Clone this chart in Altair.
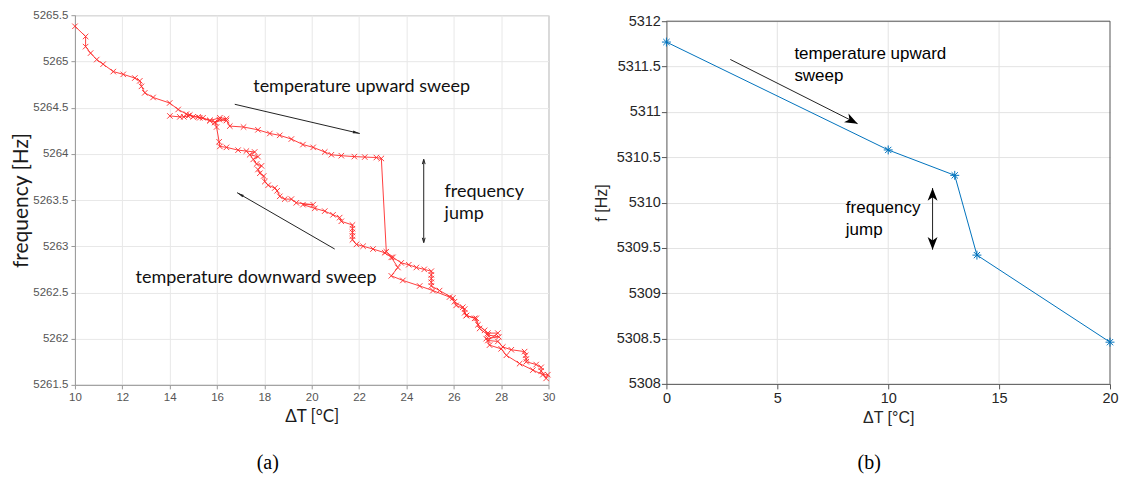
import math
import altair as alt
import pandas as pd

# ---------------- data: panel (a) measured hysteresis loop ----------------
a_dt = [10.00, 10.45, 10.45, 10.66, 10.92, 11.19, 11.62, 12.04, 12.53, 12.74,
        12.81, 12.95, 13.30, 14.00, 14.36, 14.71, 15.27, 15.70, 15.91, 16.10,
        16.40, 16.54, 17.12, 17.73, 18.23, 18.65, 19.14, 19.63, 20.06, 20.55,
        20.83, 21.25, 21.80, 22.24, 22.73, 22.94, 23.15, 23.43, 23.78, 24.10,
        24.42, 24.75, 25.05, 25.05, 25.05, 25.05, 25.05, 25.40, 25.96, 26.10,
        26.46, 26.46, 26.53, 26.88, 27.02, 27.30, 27.44, 27.86, 27.44, 27.86,
        28.07, 28.43, 28.99, 29.03, 29.06, 29.06, 29.48, 29.69, 29.69, 29.90,
        29.97,
        29.76, 29.34, 28.78, 28.22, 28.00, 27.51, 27.37, 27.90, 27.44, 27.09,
        26.95, 26.53, 26.38, 26.03, 25.82, 25.12, 24.56, 23.85, 23.36, 23.64,
        23.36, 23.08, 22.59, 22.17, 21.89, 21.72, 21.72, 21.72, 21.72, 21.72,
        21.25, 21.18, 20.90, 20.55, 20.13, 19.63, 20.06, 19.35, 19.14, 18.86,
        18.65, 18.54, 18.44, 18.16, 18.02, 17.97, 17.81, 17.73, 17.88, 17.67,
        17.53, 17.73, 17.38, 17.59, 17.24, 16.89, 16.40, 16.12, 16.09, 15.98,
        15.91, 16.40, 16.12, 15.70, 15.41, 15.20, 14.99, 14.85, 14.78, 14.60,
        14.43, 14.01]
a_f = [5265.38, 5265.27, 5265.16, 5265.09, 5265.02, 5264.97, 5264.89, 5264.86, 5264.82, 5264.79,
       5264.73, 5264.66, 5264.61, 5264.55, 5264.48, 5264.43, 5264.39, 5264.36, 5264.34, 5264.37,
       5264.36, 5264.30, 5264.29, 5264.26, 5264.22, 5264.20, 5264.16, 5264.10, 5264.07, 5264.02,
       5263.99, 5263.98, 5263.97, 5263.965, 5263.96, 5263.95, 5262.94, 5262.88, 5262.82, 5262.80,
       5262.77, 5262.75, 5262.73, 5262.69, 5262.65, 5262.61, 5262.57, 5262.52, 5262.44, 5262.36,
       5262.32, 5262.28, 5262.25, 5262.22, 5262.15, 5262.09, 5262.06, 5262.06, 5261.98, 5261.97,
       5261.91, 5261.88, 5261.86, 5261.82, 5261.78, 5261.75, 5261.72, 5261.69, 5261.65, 5261.57,
       5261.61,
       5261.61, 5261.66, 5261.73, 5261.82, 5261.89, 5261.93, 5262.00, 5262.02, 5262.04, 5262.11,
       5262.22, 5262.25, 5262.34, 5262.40, 5262.45, 5262.52, 5262.57, 5262.63, 5262.68, 5262.77,
       5262.88, 5262.93, 5262.97, 5263.00, 5263.02, 5263.07, 5263.11, 5263.15, 5263.19, 5263.23,
       5263.27, 5263.31, 5263.34, 5263.38, 5263.41, 5263.45, 5263.45, 5263.47, 5263.51, 5263.51,
       5263.54, 5263.60, 5263.63, 5263.66, 5263.70, 5263.76, 5263.79, 5263.83, 5263.87, 5263.89,
       5263.94, 5263.97, 5263.99, 5264.02, 5264.03, 5264.04, 5264.07, 5264.08, 5264.13, 5264.29,
       5264.34, 5264.38, 5264.39, 5264.36, 5264.39, 5264.40, 5264.40, 5264.42, 5264.41, 5264.40,
       5264.40, 5264.41]

# ---------------- data: panel (b) ----------------
b_dt = [0, 10, 13, 14, 20]
b_f = [5311.77, 5310.58, 5310.30, 5309.42, 5308.46]

# ticks
a_xticks = [10, 12, 14, 16, 18, 20, 22, 24, 26, 28, 30]
a_yticks = [5261.5, 5262, 5262.5, 5263, 5263.5, 5264, 5264.5, 5265, 5265.5]
b_xticks = [0, 5, 10, 15, 20]
b_yticks = [5308, 5308.5, 5309, 5309.5, 5310, 5310.5, 5311, 5311.5, 5312]

# annotations (a)
a_text = ["temperature upward sweep", "frequency", "jump", "temperature downward sweep"]
a_text_x = [17.53, 25.61, 25.61, 12.56]
a_text_y = [5264.72, 5263.59, 5263.35, 5262.66]
a_arr_x1 = [16.75, 20.97]
a_arr_y1 = [5264.536, 5262.97]
a_arr_x2 = [22.03, 16.85]
a_arr_y2 = [5264.22, 5263.58]
a_jump = (24.73, 5263.04, 5263.94)

# annotations (b)
b_text = ["temperature upward", "sweep", "frequency", "jump"]
b_text_x = [5.77, 5.77, 8.09, 8.09]
b_text_y = [5311.64, 5311.40, 5309.94, 5309.70]
b_arr = (2.88, 5311.578, 8.62, 5310.87)
b_jump = (12.0, 5309.48, 5310.16)

XSHAPE = "M-1,-1L1,1M-1,1L1,-1"
STAR = "M-1,0L1,0M0,-1L0,1M-0.7,-0.7L0.7,0.7M-0.7,0.7L0.7,-0.7"
HEAD_A = "M0,0L0.36,1.8L-0.36,1.8Z"
CHEV_A = "M-0.45,1.5L0,0L0.45,1.5"
HEAD_B = "M0,0L0.7,1.8L0,1.3L-0.7,1.8Z"

WA, HA = 474, 370
WB = 444
B_TOP, B_BOT = 6, 369       # panel (b) plot sits a little lower than panel (a)
HB = B_BOT


def head_angle(x1, y1, x2, y2, sx, sy):
    dx = (x2 - x1) * sx
    dy = -(y2 - y1) * sy
    return math.degrees(math.atan2(dx, -dy)) % 360


def make_axis(values, lab_font_size, lab_color, dom_color, grid_color, title_font,
              title_size, title_color, lab_pad, title_pad, tick_size, grid=True):
    return alt.Axis(values=values, format="~g", grid=grid, gridColor=grid_color,
                    gridWidth=1, domainColor=dom_color, tickColor=dom_color,
                    tickSize=tick_size, labelFont="Liberation Sans",
                    labelFontSize=lab_font_size, labelColor=lab_color,
                    labelPadding=lab_pad, labelFlush=False, labelOverlap=False,
                    titleFont=title_font, titleFontSize=title_size,
                    titleFontWeight="normal", titleColor=title_color,
                    titlePadding=title_pad)


# ---------------- panel (a) ----------------
ax_a_x = make_axis(a_xticks, 11.5, "#555555", "#999999", "#e8e8e8", "Lato", 17,
                   "#1a1a1a", 3, 5, 4)
ax_a_y = make_axis(a_yticks, 11.5, "#555555", "#999999", "#e8e8e8", "Lato", 21,
                   "#1a1a1a", 3, 1, 4)
sc_a_x = alt.Scale(domain=[10, 30], nice=False, zero=False)
sc_a_y = alt.Scale(domain=[5261.5, 5265.5], nice=False, zero=False)


def XA(field="x"):
    return alt.X(f"{field}:Q", scale=sc_a_x, axis=ax_a_x, title="ΔT [°C]")


def YA(field="y"):
    return alt.Y(f"{field}:Q", scale=sc_a_y, axis=ax_a_y, title="frequency [Hz]")


df_a = pd.DataFrame({"x": a_dt, "y": a_f, "i": list(range(len(a_dt)))})
sxa, sya = WA / 20, HA / 4

line_a = alt.Chart(df_a).mark_line(color="#ff2a2a", strokeWidth=0.9).encode(
    x=XA(), y=YA(), order="i:Q")
pts_a = alt.Chart(df_a).mark_point(shape=XSHAPE, size=30, color="#ff2a2a",
                                   strokeWidth=0.9, filled=False, opacity=1).encode(
    x=XA(), y=YA())

df_at = pd.DataFrame({"x": a_text_x, "y": a_text_y, "t": a_text})
text_a = alt.Chart(df_at).mark_text(align="left", baseline="middle", font="Lato",
                                    fontSize=18, color="#111111").encode(
    x=XA(), y=YA(), text="t:N")

rx1 = a_arr_x1 + [a_jump[0]]
ry1 = a_arr_y1 + [a_jump[1]]
rx2 = a_arr_x2 + [a_jump[0]]
ry2 = a_arr_y2 + [a_jump[2]]
df_ar = pd.DataFrame({"x": rx1, "y": ry1, "x2": rx2, "y2": ry2})
rule_a = alt.Chart(df_ar).mark_rule(color="#222222", strokeWidth=1).encode(
    x=XA(), y=YA(), x2="x2:Q", y2="y2:Q")

hx, hy, ha = [], [], []
for x1, y1, x2, y2 in zip(a_arr_x1, a_arr_y1, a_arr_x2, a_arr_y2):
    hx.append(x2); hy.append(y2); ha.append(head_angle(x1, y1, x2, y2, sxa, sya))
df_ah = pd.DataFrame({"x": hx, "y": hy, "a": ha})
head_a = alt.Chart(df_ah).mark_point(shape=HEAD_A, size=60, filled=True,
                                     color="#222222", opacity=1).encode(
    x=XA(), y=YA(), angle=alt.Angle("a:Q", scale=None))

jx, jy, ja = a_jump[0], a_jump[1], a_jump[2]
df_jh = pd.DataFrame({"x": [jx, jx], "y": [jy, ja],
                      "a": [head_angle(jx, ja, jx, jy, sxa, sya),
                            head_angle(jx, jy, jx, ja, sxa, sya)]})
jhead_a = alt.Chart(df_jh).mark_point(shape=CHEV_A, size=40, filled=False,
                                      color="#222222", strokeWidth=1, opacity=1).encode(
    x=XA(), y=YA(), angle=alt.Angle("a:Q", scale=None))

cap_a = alt.Chart(pd.DataFrame({"t": ["(a)"]})).mark_text(
    font="Liberation Serif", fontSize=20, align="center", baseline="middle",
    color="#000000").encode(x=alt.value(193), y=alt.value(448), text="t:N")

panel_a = alt.layer(line_a, pts_a, rule_a, head_a, jhead_a, text_a, cap_a).properties(
    width=WA, height=HA, view=alt.ViewBackground(stroke="#999999", strokeWidth=1))

# ---------------- panel (b) ----------------
ax_b_x = make_axis(b_xticks, 14.5, "#262626", "#555555", "#e3e3e3",
                   "Liberation Sans", 16, "#262626", 3, 4, 5, grid=False)
ax_b_y = make_axis(b_yticks, 14.5, "#262626", "#555555", "#e3e3e3",
                   "Liberation Sans", 16, "#262626", 1, 7, 5)
sc_b_x = alt.Scale(domain=[0, 20], nice=False, zero=False)
sc_b_y = alt.Scale(domain=[5308, 5312], nice=False, zero=False, range=[B_BOT, B_TOP])


def XB(field="x"):
    return alt.X(f"{field}:Q", scale=sc_b_x, axis=ax_b_x, title="ΔT [°C]")


def YB(field="y"):
    return alt.Y(f"{field}:Q", scale=sc_b_y, axis=ax_b_y, title="f [Hz]")


sxb, syb = WB / 20, (B_BOT - B_TOP) / 4

# vertical grid lines and the top/right frame, drawn through the scales
df_bg = pd.DataFrame({"x": b_xticks[1:-1], "y": [5308] * 3, "y2": [5312] * 3})
grid_b = alt.Chart(df_bg).mark_rule(color="#e3e3e3", strokeWidth=1).encode(
    x=XB(), y=YB(), y2="y2:Q")
df_frame = pd.DataFrame({"x": [0, 20], "y": [5312, 5308], "x2": [20, 20], "y2": [5312, 5312]})
frame_b = alt.Chart(df_frame).mark_rule(color="#555555", strokeWidth=1).encode(
    x=XB(), y=YB(), x2="x2:Q", y2="y2:Q")

df_b = pd.DataFrame({"x": b_dt, "y": b_f, "i": list(range(len(b_dt)))})
line_b = alt.Chart(df_b).mark_line(color="#0072BD", strokeWidth=1).encode(
    x=XB(), y=YB(), order="i:Q")
pts_b = alt.Chart(df_b).mark_point(shape=STAR, size=80, color="#0072BD",
                                   strokeWidth=1, filled=False, opacity=1).encode(
    x=XB(), y=YB())

df_bt = pd.DataFrame({"x": b_text_x, "y": b_text_y, "t": b_text})
text_b = alt.Chart(df_bt).mark_text(align="left", baseline="middle",
                                    font="Liberation Sans", fontSize=17,
                                    color="#000000").encode(
    x=XB(), y=YB(), text="t:N")

df_br = pd.DataFrame({"x": [b_arr[0], b_jump[0]], "y": [b_arr[1], b_jump[1]],
                      "x2": [b_arr[2], b_jump[0]], "y2": [b_arr[3], b_jump[2]]})
rule_b = alt.Chart(df_br).mark_rule(color="#222222", strokeWidth=1).encode(
    x=XB(), y=YB(), x2="x2:Q", y2="y2:Q")

df_bh = pd.DataFrame({
    "x": [b_arr[2], b_jump[0], b_jump[0]],
    "y": [b_arr[3], b_jump[1], b_jump[2]],
    "a": [head_angle(b_arr[0], b_arr[1], b_arr[2], b_arr[3], sxb, syb),
          head_angle(b_jump[0], b_jump[2], b_jump[0], b_jump[1], sxb, syb),
          head_angle(b_jump[0], b_jump[1], b_jump[0], b_jump[2], sxb, syb)]})
head_b = alt.Chart(df_bh).mark_point(shape=HEAD_B, size=200, filled=True,
                                     color="#000000", opacity=1).encode(
    x=XB(), y=YB(), angle=alt.Angle("a:Q", scale=None))

cap_b = alt.Chart(pd.DataFrame({"t": ["(b)"]})).mark_text(
    font="Liberation Serif", fontSize=20, align="center", baseline="middle",
    color="#000000").encode(x=alt.value(203), y=alt.value(448), text="t:N")

panel_b = alt.layer(grid_b, frame_b, line_b, pts_b, rule_b, head_b, text_b, cap_b).properties(
    width=WB, height=HB,
    view=alt.ViewBackground(strokeWidth=0, stroke="transparent"))

chart = alt.hconcat(panel_a, panel_b, spacing=37).properties(
    padding={"left": 2, "top": 0, "right": 0, "bottom": 0},
    background="white")

chart.save("out.html", embed_options={"renderer": "svg", "actions": False})
